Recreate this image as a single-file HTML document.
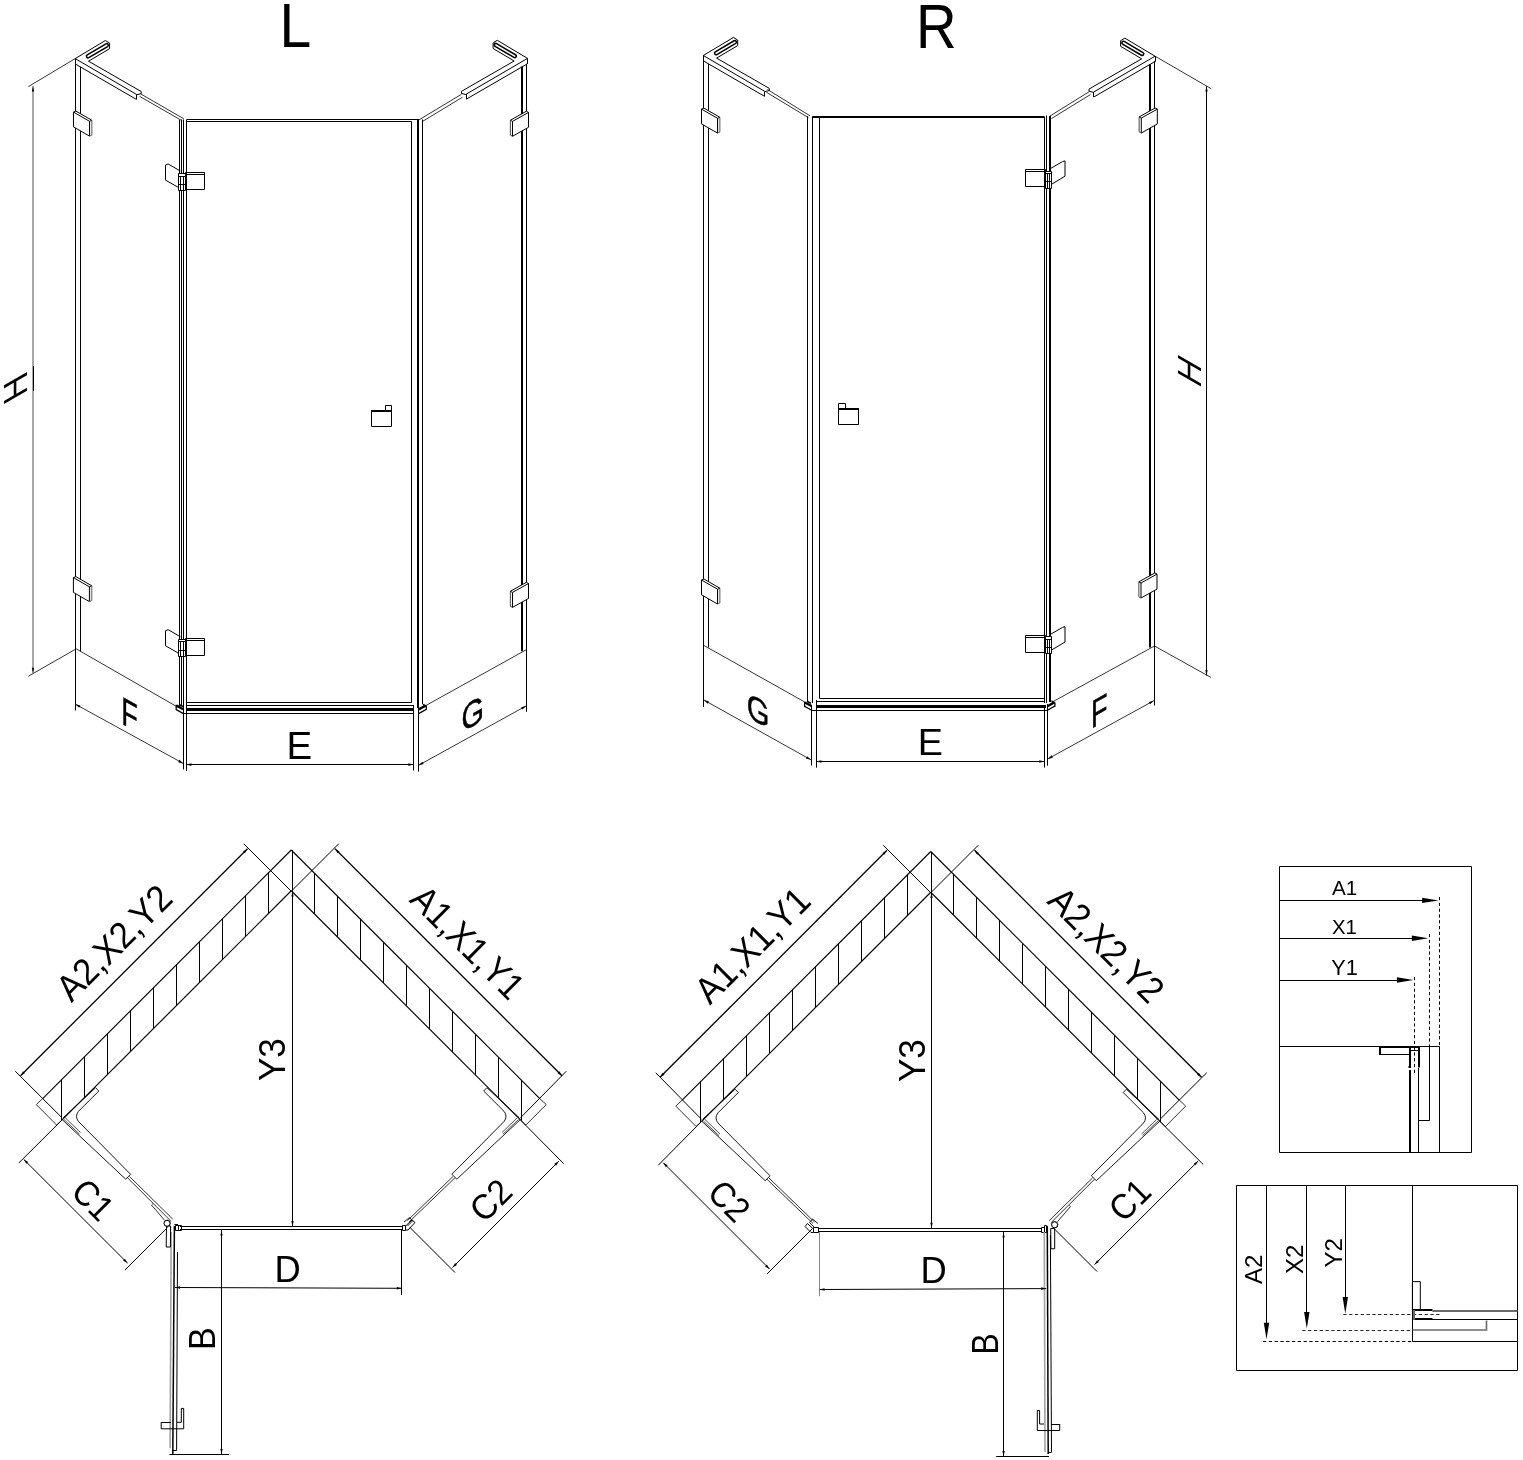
<!DOCTYPE html>
<html><head><meta charset="utf-8"><style>
html,body{margin:0;padding:0;background:#fff;}
svg{display:block;font-family:"Liberation Sans",sans-serif;filter:grayscale(1);}
</style></head><body>
<svg width="1523" height="1460" viewBox="0 0 1523 1460">
<rect width="1523" height="1460" fill="#fff"/>
<line x1="33" y1="86" x2="33" y2="673" stroke="#a8a8a8" stroke-width="2"/>
<line x1="33.5" y1="366" x2="33.5" y2="391" stroke="#000" stroke-width="1"/>
<line x1="28.4" y1="86.6" x2="75.2" y2="58.6" stroke="#000" stroke-width="0.8"/>
<line x1="28.4" y1="676.2" x2="75.4" y2="649.3" stroke="#000" stroke-width="0.8"/>
<path d="M33,86.5 L34.2,91.5 L31.8,91.5 Z" fill="#000"/>
<path d="M33,672.8 L31.8,667.8 L34.2,667.8 Z" fill="#000"/>
<text transform="matrix(0.00000 -1.00000 1.00000 -0.57735 27.10 393.54)" font-size="33.43" fill="#000">H</text>
<line x1="75.5" y1="58.6" x2="75.5" y2="710.3" stroke="#000" stroke-width="1"/>
<line x1="80.5" y1="66.9" x2="80.5" y2="651.4" stroke="#000" stroke-width="1"/>
<line x1="75.4" y1="648.4" x2="176.4" y2="706.4" stroke="#000" stroke-width="0.8"/>
<path d="M73.5,112.1 L75.9,111.1 L91.9,120.3 L91.9,135.1 L89.5,136.1 L73.5,126.9 Z" stroke="#fff" stroke-width="0.1" fill="#fff" stroke-linejoin="miter"/>
<path d="M89.5,121.3 L91.9,120.3 L91.9,135.1 L89.5,136.1 Z" stroke="#e4e4e4" stroke-width="0.1" fill="#e4e4e4" stroke-linejoin="miter"/>
<path d="M73.5,112.1 L89.5,121.3 L89.5,136.1 L73.5,126.9 Z" stroke="#000" stroke-width="1.0" fill="none" stroke-linejoin="miter"/>
<path d="M73.5,112.1 L75.9,111.1 L91.9,120.3 L89.5,121.3" stroke="#000" stroke-width="1.0" fill="none" stroke-linejoin="miter"/>
<path d="M91.9,120.3 L91.9,135.1 L89.5,136.1" stroke="#555" stroke-width="0.9" fill="none" stroke-linejoin="miter"/>
<path d="M73.4,577.6 L75.8,576.6 L91.8,585.8 L91.8,600.6 L89.4,601.6 L73.4,592.4 Z" stroke="#fff" stroke-width="0.1" fill="#fff" stroke-linejoin="miter"/>
<path d="M89.4,586.8 L91.8,585.8 L91.8,600.6 L89.4,601.6 Z" stroke="#e4e4e4" stroke-width="0.1" fill="#e4e4e4" stroke-linejoin="miter"/>
<path d="M73.4,577.6 L89.4,586.8 L89.4,601.6 L73.4,592.4 Z" stroke="#000" stroke-width="1.0" fill="none" stroke-linejoin="miter"/>
<path d="M73.4,577.6 L75.8,576.6 L91.8,585.8 L89.4,586.8" stroke="#000" stroke-width="1.0" fill="none" stroke-linejoin="miter"/>
<path d="M91.8,585.8 L91.8,600.6 L89.4,601.6" stroke="#555" stroke-width="0.9" fill="none" stroke-linejoin="miter"/>
<path d="M75.2,58.6 L105.4,40.5 L109.6,43.1 L109.6,48.7 L88.5,61.2 L141.2,91.5 L141.2,93.6 L136.5,94.8" stroke="#000" stroke-width="1.0" fill="none" stroke-linejoin="miter"/>
<line x1="75.2" y1="58.6" x2="136.5" y2="94.4" stroke="#000" stroke-width="1.0"/>
<line x1="75.5" y1="64.1" x2="136.4" y2="99.4" stroke="#000" stroke-width="1.0"/>
<line x1="136.5" y1="94.4" x2="136.5" y2="99.4" stroke="#000" stroke-width="1"/>
<line x1="75.5" y1="58.6" x2="75.5" y2="64.1" stroke="#000" stroke-width="1"/>
<line x1="88" y1="56.3" x2="106.8" y2="45.2" stroke="#000" stroke-width="4.6" stroke-linecap="round"/>
<line x1="88" y1="56.3" x2="106.8" y2="45.2" stroke="#fff" stroke-width="1.6" stroke-linecap="round"/>
<line x1="140.5" y1="93.8" x2="183.8" y2="118.8" stroke="#000" stroke-width="0.8"/>
<line x1="139.5" y1="96.3" x2="182.3" y2="120.9" stroke="#000" stroke-width="0.8"/>
<line x1="75.4" y1="704.2" x2="183.2" y2="763.4" stroke="#000" stroke-width="0.8"/>
<path d="M75.4,704.2 L80.41,705.47 L79.16,707.75 Z" fill="#000"/>
<path d="M183.2,763.4 L178.19,762.13 L179.44,759.85 Z" fill="#000"/>
<line x1="75.5" y1="710.3" x2="75.5" y2="704" stroke="#000" stroke-width="0.8"/>
<text transform="matrix(0.69000 0.38247 -0.00000 1.00000 121.16 723.30)" font-size="39.24" fill="#000" stroke="#000" stroke-width="0.5">F</text>
<line x1="179.5" y1="119.5" x2="179.5" y2="706" stroke="#000" stroke-width="1"/>
<line x1="181.5" y1="119.5" x2="181.5" y2="706" stroke="#000" stroke-width="1"/>
<line x1="183.5" y1="119.5" x2="183.5" y2="769.5" stroke="#000" stroke-width="1"/>
<line x1="186.5" y1="120" x2="186.5" y2="771" stroke="#000" stroke-width="1"/>
<line x1="411.5" y1="121.4" x2="411.5" y2="702.6" stroke="#000" stroke-width="1"/>
<line x1="413.5" y1="705" x2="413.5" y2="770.5" stroke="#000" stroke-width="1"/>
<line x1="418" y1="119" x2="418" y2="708" stroke="#000" stroke-width="2"/>
<line x1="418.5" y1="708" x2="418.5" y2="771.6" stroke="#000" stroke-width="1"/>
<line x1="422.5" y1="119.5" x2="422.5" y2="704" stroke="#000" stroke-width="1"/>
<line x1="186.4" y1="119.5" x2="418" y2="119.5" stroke="#000" stroke-width="1"/>
<line x1="186.4" y1="121.5" x2="411.4" y2="121.5" stroke="#000" stroke-width="1"/>
<line x1="186.4" y1="702.5" x2="411.4" y2="702.5" stroke="#000" stroke-width="1"/>
<line x1="186.4" y1="705.5" x2="413.4" y2="705.5" stroke="#000" stroke-width="1"/>
<line x1="186.4" y1="709.5" x2="413.4" y2="709.5" stroke="#000" stroke-width="3"/>
<line x1="183.6" y1="713.5" x2="413.4" y2="713.5" stroke="#000" stroke-width="1"/>
<path d="M176.2,704.8 L176.2,709.6 L183.5,713.6" stroke="#000" stroke-width="1.3" fill="none" stroke-linejoin="miter"/>
<line x1="176.5" y1="705.6" x2="183.2" y2="709.2" stroke="#000" stroke-width="2.4"/>
<line x1="179" y1="704.5" x2="183" y2="706.5" stroke="#000" stroke-width="1.6"/>
<path d="M418.6,713.6 L426.3,709.3 L426.3,706.2 L422.8,704.2" stroke="#000" stroke-width="1.3" fill="none" stroke-linejoin="miter"/>
<line x1="418.8" y1="709.4" x2="425.5" y2="705.6" stroke="#000" stroke-width="2.4"/>
<path d="M185.5,172.5 L204.5,172.5 L204.5,189.5 L185.5,189.5 Z" stroke="#000" stroke-width="1" fill="none" stroke-linejoin="miter"/>
<line x1="185.7" y1="174.5" x2="204.5" y2="174.5" stroke="#000" stroke-width="1"/>
<path d="M180.5,171.1 L168.2,164 L165.5,165 L165.5,180.1 L178.2,187.3" stroke="#000" stroke-width="1.0" fill="none" stroke-linejoin="miter"/>
<path d="M178.5,173.5 L185.5,173.5 L185.5,190.5 L178.5,190.5 Z" stroke="#000" stroke-width="1" fill="#fff" stroke-linejoin="miter"/>
<line x1="178.5" y1="176.5" x2="185" y2="176.5" stroke="#000" stroke-width="1"/>
<line x1="180.5" y1="176" x2="180.5" y2="190.8" stroke="#000" stroke-width="1"/>
<line x1="183.5" y1="176" x2="183.5" y2="190.8" stroke="#000" stroke-width="1"/>
<line x1="178.5" y1="184.5" x2="185" y2="184.5" stroke="#000" stroke-width="1"/>
<path d="M185.5,638.5 L204.5,638.5 L204.5,655.5 L185.5,655.5 Z" stroke="#000" stroke-width="1" fill="none" stroke-linejoin="miter"/>
<line x1="185.7" y1="640.5" x2="204.5" y2="640.5" stroke="#000" stroke-width="1"/>
<path d="M180.5,636.8 L168.2,629.7 L165.5,630.7 L165.5,645.8 L178.2,653" stroke="#000" stroke-width="1.0" fill="none" stroke-linejoin="miter"/>
<path d="M178.5,639.5 L185.5,639.5 L185.5,656.5 L178.5,656.5 Z" stroke="#000" stroke-width="1" fill="#fff" stroke-linejoin="miter"/>
<line x1="178.5" y1="641.5" x2="185" y2="641.5" stroke="#000" stroke-width="1"/>
<line x1="180.5" y1="641.7" x2="180.5" y2="656.5" stroke="#000" stroke-width="1"/>
<line x1="183.5" y1="641.7" x2="183.5" y2="656.5" stroke="#000" stroke-width="1"/>
<line x1="178.5" y1="650.5" x2="185" y2="650.5" stroke="#000" stroke-width="1"/>
<path d="M371.5,410.5 L391.5,410.5 L391.5,426.5 L371.5,426.5 Z" stroke="#000" stroke-width="1" fill="none" stroke-linejoin="miter"/>
<line x1="371.3" y1="411" x2="385.2" y2="411" stroke="#000" stroke-width="2"/>
<path d="M385.5,405.5 L391.5,405.5 L391.5,411.5 L385.5,411.5 Z" stroke="#000" stroke-width="1" fill="none" stroke-linejoin="miter"/>
<line x1="186.4" y1="764.5" x2="413.4" y2="764.5" stroke="#000" stroke-width="1"/>
<path d="M186.4,764.6 L191.4,763.3 L191.4,765.9 Z" fill="#000"/>
<path d="M413.4,764.6 L408.4,765.9 L408.4,763.3 Z" fill="#000"/>
<text transform="matrix(1.00000 0.00000 -0.00000 1.00000 286.60 758.85)" font-size="38.52" fill="#000">E</text>
<line x1="418.75" y1="120" x2="461.6" y2="94.2" stroke="#000" stroke-width="0.8"/>
<line x1="422.4" y1="121.5" x2="462.5" y2="97.2" stroke="#000" stroke-width="0.8"/>
<path d="M527.5,58.4 L497.3,40.3 L493.1,42.9 L493.1,48.5 L514.2,61 L461.5,91.3 L461.5,93.4 L466.2,94.6" stroke="#000" stroke-width="1.0" fill="none" stroke-linejoin="miter"/>
<line x1="527.5" y1="58.4" x2="466.2" y2="94.2" stroke="#000" stroke-width="1.0"/>
<line x1="527.2" y1="63.9" x2="466.3" y2="99.2" stroke="#000" stroke-width="1.0"/>
<line x1="466.5" y1="94.2" x2="466.5" y2="99.2" stroke="#000" stroke-width="1"/>
<line x1="527.5" y1="58.4" x2="527.5" y2="63.9" stroke="#000" stroke-width="1"/>
<line x1="514.7" y1="56.1" x2="495.9" y2="45" stroke="#000" stroke-width="4.6" stroke-linecap="round"/>
<line x1="514.7" y1="56.1" x2="495.9" y2="45" stroke="#fff" stroke-width="1.6" stroke-linecap="round"/>
<line x1="522" y1="66.5" x2="522" y2="651.2" stroke="#000" stroke-width="2"/>
<line x1="526.5" y1="63.8" x2="526.5" y2="711.6" stroke="#000" stroke-width="1"/>
<line x1="423.4" y1="706.9" x2="526.4" y2="649.7" stroke="#000" stroke-width="0.8"/>
<path d="M528.5,112.4 L526.35,111.25 L510.35,120.25 L510.35,135.15 L512.5,136.3 L528.5,127.3 Z" stroke="#fff" stroke-width="0.1" fill="#fff" stroke-linejoin="miter"/>
<path d="M528.5,112.4 L512.5,121.4 L512.5,136.3 L528.5,127.3 Z" stroke="#000" stroke-width="1.0" fill="none" stroke-linejoin="miter"/>
<path d="M528.5,112.4 L526.35,111.25 L510.35,120.25 L512.5,121.4" stroke="#000" stroke-width="1.0" fill="none" stroke-linejoin="miter"/>
<path d="M510.35,120.25 L510.35,135.15 L512.5,136.3" stroke="#333" stroke-width="0.9" fill="none" stroke-linejoin="miter"/>
<path d="M528.5,583.5 L526.35,582.35 L510.35,591.25 L510.35,606.25 L512.5,607.4 L528.5,598.5 Z" stroke="#fff" stroke-width="0.1" fill="#fff" stroke-linejoin="miter"/>
<path d="M528.5,583.5 L512.5,592.4 L512.5,607.4 L528.5,598.5 Z" stroke="#000" stroke-width="1.0" fill="none" stroke-linejoin="miter"/>
<path d="M528.5,583.5 L526.35,582.35 L510.35,591.25 L512.5,592.4" stroke="#000" stroke-width="1.0" fill="none" stroke-linejoin="miter"/>
<path d="M510.35,591.25 L510.35,606.25 L512.5,607.4" stroke="#333" stroke-width="0.9" fill="none" stroke-linejoin="miter"/>
<line x1="418.6" y1="765.3" x2="526.2" y2="705.9" stroke="#000" stroke-width="0.8"/>
<path d="M418.6,765.3 L422.35,761.75 L423.61,764.02 Z" fill="#000"/>
<path d="M526.2,705.9 L522.45,709.45 L521.19,707.18 Z" fill="#000"/>
<line x1="526.5" y1="711.6" x2="526.5" y2="705" stroke="#000" stroke-width="0.8"/>
<text transform="matrix(0.78000 -0.43236 -0.00000 1.00000 461.51 732.50)" font-size="37.06" fill="#000" stroke="#000" stroke-width="0.5">G</text>
<text transform="matrix(0.90000 0.00000 -0.00000 1.00000 279.55 47.10)" font-size="63.37" fill="#000">L</text>
<line x1="703.5" y1="55.5" x2="703.5" y2="707" stroke="#000" stroke-width="1"/>
<line x1="708.5" y1="63.8" x2="708.5" y2="647.4" stroke="#000" stroke-width="1"/>
<path d="M703.3,55.5 L733.5,37.4 L737.7,40 L737.7,45.6 L716.6,58.1 L769.3,88.4 L769.3,90.5 L764.6,91.7" stroke="#000" stroke-width="1.0" fill="none" stroke-linejoin="miter"/>
<line x1="703.3" y1="55.5" x2="764.6" y2="91.3" stroke="#000" stroke-width="1.0"/>
<line x1="703.6" y1="61" x2="764.5" y2="96.3" stroke="#000" stroke-width="1.0"/>
<line x1="764.5" y1="91.3" x2="764.5" y2="96.3" stroke="#000" stroke-width="1"/>
<line x1="703.5" y1="55.5" x2="703.5" y2="61" stroke="#000" stroke-width="1"/>
<line x1="716.1" y1="53.2" x2="734.9" y2="42.1" stroke="#000" stroke-width="4.6" stroke-linecap="round"/>
<line x1="716.1" y1="53.2" x2="734.9" y2="42.1" stroke="#fff" stroke-width="1.6" stroke-linecap="round"/>
<line x1="767.5" y1="89.5" x2="810" y2="115.8" stroke="#000" stroke-width="0.8"/>
<line x1="766.3" y1="92.2" x2="808.5" y2="117.7" stroke="#000" stroke-width="0.8"/>
<path d="M701.5,109.1 L703.9,108.1 L719.9,117.3 L719.9,132.1 L717.5,133.1 L701.5,123.9 Z" stroke="#fff" stroke-width="0.1" fill="#fff" stroke-linejoin="miter"/>
<path d="M717.5,118.3 L719.9,117.3 L719.9,132.1 L717.5,133.1 Z" stroke="#e4e4e4" stroke-width="0.1" fill="#e4e4e4" stroke-linejoin="miter"/>
<path d="M701.5,109.1 L717.5,118.3 L717.5,133.1 L701.5,123.9 Z" stroke="#000" stroke-width="1.0" fill="none" stroke-linejoin="miter"/>
<path d="M701.5,109.1 L703.9,108.1 L719.9,117.3 L717.5,118.3" stroke="#000" stroke-width="1.0" fill="none" stroke-linejoin="miter"/>
<path d="M719.9,117.3 L719.9,132.1 L717.5,133.1" stroke="#555" stroke-width="0.9" fill="none" stroke-linejoin="miter"/>
<path d="M701.5,580 L703.9,579 L719.9,588.2 L719.9,603 L717.5,604 L701.5,594.8 Z" stroke="#fff" stroke-width="0.1" fill="#fff" stroke-linejoin="miter"/>
<path d="M717.5,589.2 L719.9,588.2 L719.9,603 L717.5,604 Z" stroke="#e4e4e4" stroke-width="0.1" fill="#e4e4e4" stroke-linejoin="miter"/>
<path d="M701.5,580 L717.5,589.2 L717.5,604 L701.5,594.8 Z" stroke="#000" stroke-width="1.0" fill="none" stroke-linejoin="miter"/>
<path d="M701.5,580 L703.9,579 L719.9,588.2 L717.5,589.2" stroke="#000" stroke-width="1.0" fill="none" stroke-linejoin="miter"/>
<path d="M719.9,588.2 L719.9,603 L717.5,604" stroke="#555" stroke-width="0.9" fill="none" stroke-linejoin="miter"/>
<line x1="704" y1="645.5" x2="804.7" y2="702" stroke="#000" stroke-width="0.8"/>
<line x1="704" y1="700.1" x2="810.9" y2="759.8" stroke="#000" stroke-width="0.8"/>
<path d="M704,700.1 L709,701.4 L707.73,703.67 Z" fill="#000"/>
<path d="M810.9,759.8 L805.9,758.5 L807.17,756.23 Z" fill="#000"/>
<text transform="matrix(0.82000 0.45453 -0.00000 1.00000 746.84 716.44)" font-size="35.47" fill="#000" stroke="#000" stroke-width="0.5">G</text>
<line x1="807.5" y1="116.2" x2="807.5" y2="702" stroke="#000" stroke-width="1"/>
<line x1="812.5" y1="116.5" x2="812.5" y2="703" stroke="#000" stroke-width="1"/>
<line x1="819.5" y1="118" x2="819.5" y2="698.4" stroke="#000" stroke-width="1"/>
<line x1="811.5" y1="705" x2="811.5" y2="765.6" stroke="#000" stroke-width="1"/>
<line x1="816.5" y1="700" x2="816.5" y2="767.7" stroke="#000" stroke-width="1"/>
<line x1="1044.5" y1="117" x2="1044.5" y2="703" stroke="#000" stroke-width="1"/>
<line x1="1046.5" y1="115.5" x2="1046.5" y2="703" stroke="#000" stroke-width="1"/>
<line x1="1050" y1="116" x2="1050" y2="702" stroke="#000" stroke-width="2"/>
<line x1="1044.5" y1="705" x2="1044.5" y2="767.5" stroke="#000" stroke-width="1"/>
<line x1="1047.5" y1="704" x2="1047.5" y2="765.6" stroke="#000" stroke-width="1"/>
<line x1="812.4" y1="117" x2="1044.5" y2="117" stroke="#000" stroke-width="2"/>
<line x1="819.5" y1="698.5" x2="1044.3" y2="698.5" stroke="#000" stroke-width="1"/>
<line x1="816" y1="701.5" x2="1044.3" y2="701.5" stroke="#000" stroke-width="1"/>
<line x1="816" y1="706.5" x2="1046" y2="706.5" stroke="#000" stroke-width="3"/>
<line x1="812" y1="710.5" x2="1047" y2="710.5" stroke="#000" stroke-width="1"/>
<path d="M804.6,701.8 L804.6,706.3 L811.8,710.3" stroke="#000" stroke-width="1.3" fill="none" stroke-linejoin="miter"/>
<line x1="804.9" y1="702.5" x2="811.5" y2="706" stroke="#000" stroke-width="2.4"/>
<line x1="807" y1="701.3" x2="811" y2="703.3" stroke="#000" stroke-width="1.6"/>
<path d="M1047.3,710.3 L1054.9,706 L1054.9,702.8 L1051.3,700.8" stroke="#000" stroke-width="1.3" fill="none" stroke-linejoin="miter"/>
<line x1="1047.5" y1="706.2" x2="1054.2" y2="702.4" stroke="#000" stroke-width="2.4"/>
<path d="M838.5,408.5 L858.5,408.5 L858.5,424.5 L838.5,424.5 Z" stroke="#000" stroke-width="1" fill="none" stroke-linejoin="miter"/>
<line x1="845" y1="409" x2="858.8" y2="409" stroke="#000" stroke-width="2"/>
<path d="M838.5,403.5 L845.5,403.5 L845.5,409.5 L838.5,409.5 Z" stroke="#000" stroke-width="1" fill="none" stroke-linejoin="miter"/>
<path d="M1025.5,169.5 L1045.5,169.5 L1045.5,186.5 L1025.5,186.5 Z" stroke="#000" stroke-width="1" fill="none" stroke-linejoin="miter"/>
<line x1="1025.3" y1="171.5" x2="1045" y2="171.5" stroke="#000" stroke-width="1"/>
<path d="M1050,168.8 L1062.5,161.6 L1065,160.9 L1065,176.2 L1051.5,184.3" stroke="#000" stroke-width="1.0" fill="none" stroke-linejoin="miter"/>
<path d="M1045.5,171.5 L1051.5,171.5 L1051.5,188.5 L1045.5,188.5 Z" stroke="#000" stroke-width="1" fill="#fff" stroke-linejoin="miter"/>
<line x1="1045" y1="173.5" x2="1051.5" y2="173.5" stroke="#000" stroke-width="1"/>
<line x1="1047.5" y1="173.2" x2="1047.5" y2="188" stroke="#000" stroke-width="1"/>
<line x1="1049.5" y1="173.2" x2="1049.5" y2="188" stroke="#000" stroke-width="1"/>
<line x1="1045" y1="181.5" x2="1051.5" y2="181.5" stroke="#000" stroke-width="1"/>
<path d="M1025.5,635.5 L1045.5,635.5 L1045.5,652.5 L1025.5,652.5 Z" stroke="#000" stroke-width="1" fill="none" stroke-linejoin="miter"/>
<line x1="1025.3" y1="637.5" x2="1045" y2="637.5" stroke="#000" stroke-width="1"/>
<path d="M1050,634.6 L1062.5,627.4 L1065,626.7 L1065,642 L1051.5,650.1" stroke="#000" stroke-width="1.0" fill="none" stroke-linejoin="miter"/>
<path d="M1045.5,636.5 L1051.5,636.5 L1051.5,653.5 L1045.5,653.5 Z" stroke="#000" stroke-width="1" fill="#fff" stroke-linejoin="miter"/>
<line x1="1045" y1="639.5" x2="1051.5" y2="639.5" stroke="#000" stroke-width="1"/>
<line x1="1047.5" y1="639" x2="1047.5" y2="653.8" stroke="#000" stroke-width="1"/>
<line x1="1049.5" y1="639" x2="1049.5" y2="653.8" stroke="#000" stroke-width="1"/>
<line x1="1045" y1="647.5" x2="1051.5" y2="647.5" stroke="#000" stroke-width="1"/>
<line x1="816.4" y1="761.5" x2="1044.3" y2="761.5" stroke="#000" stroke-width="1"/>
<path d="M816.4,761.5 L821.4,760.2 L821.4,762.8 Z" fill="#000"/>
<path d="M1044.3,761.5 L1039.3,762.8 L1039.3,760.2 Z" fill="#000"/>
<text transform="matrix(1.00000 0.00000 -0.00000 1.00000 917.66 754.90)" font-size="37.79" fill="#000">E</text>
<line x1="1050" y1="116" x2="1089.5" y2="91.5" stroke="#000" stroke-width="0.8"/>
<line x1="1051.5" y1="118.5" x2="1090.5" y2="94.5" stroke="#000" stroke-width="0.8"/>
<path d="M1155,56.2 L1124.8,38.1 L1120.6,40.7 L1120.6,46.3 L1141.7,58.8 L1089,89.1 L1089,91.2 L1093.7,92.4" stroke="#000" stroke-width="1.0" fill="none" stroke-linejoin="miter"/>
<line x1="1155" y1="56.2" x2="1093.7" y2="92" stroke="#000" stroke-width="1.0"/>
<line x1="1154.7" y1="61.7" x2="1093.8" y2="97" stroke="#000" stroke-width="1.0"/>
<line x1="1093.5" y1="92" x2="1093.5" y2="97" stroke="#000" stroke-width="1"/>
<line x1="1155.5" y1="56.2" x2="1155.5" y2="61.7" stroke="#000" stroke-width="1"/>
<line x1="1142.2" y1="53.9" x2="1123.4" y2="42.8" stroke="#000" stroke-width="4.6" stroke-linecap="round"/>
<line x1="1142.2" y1="53.9" x2="1123.4" y2="42.8" stroke="#fff" stroke-width="1.6" stroke-linecap="round"/>
<line x1="1150" y1="64.3" x2="1150" y2="647.6" stroke="#000" stroke-width="2"/>
<line x1="1154.5" y1="61" x2="1154.5" y2="705.3" stroke="#000" stroke-width="1"/>
<line x1="1052.5" y1="701.9" x2="1154.5" y2="646" stroke="#000" stroke-width="0.8"/>
<path d="M1157.3,109.1 L1155.15,107.95 L1139.15,116.95 L1139.15,131.85 L1141.3,133 L1157.3,124 Z" stroke="#fff" stroke-width="0.1" fill="#fff" stroke-linejoin="miter"/>
<path d="M1157.3,109.1 L1141.3,118.1 L1141.3,133 L1157.3,124 Z" stroke="#000" stroke-width="1.0" fill="none" stroke-linejoin="miter"/>
<path d="M1157.3,109.1 L1155.15,107.95 L1139.15,116.95 L1141.3,118.1" stroke="#000" stroke-width="1.0" fill="none" stroke-linejoin="miter"/>
<path d="M1139.15,116.95 L1139.15,131.85 L1141.3,133" stroke="#333" stroke-width="0.9" fill="none" stroke-linejoin="miter"/>
<path d="M1157,574.1 L1154.85,572.95 L1138.85,581.85 L1138.85,596.85 L1141,598 L1157,589.1 Z" stroke="#fff" stroke-width="0.1" fill="#fff" stroke-linejoin="miter"/>
<path d="M1157,574.1 L1141,583 L1141,598 L1157,589.1 Z" stroke="#000" stroke-width="1.0" fill="none" stroke-linejoin="miter"/>
<path d="M1157,574.1 L1154.85,572.95 L1138.85,581.85 L1141,583" stroke="#000" stroke-width="1.0" fill="none" stroke-linejoin="miter"/>
<path d="M1138.85,581.85 L1138.85,596.85 L1141,598" stroke="#333" stroke-width="0.9" fill="none" stroke-linejoin="miter"/>
<line x1="1047.9" y1="758.9" x2="1153.8" y2="700.7" stroke="#000" stroke-width="0.8"/>
<path d="M1047.9,758.9 L1051.66,755.35 L1052.91,757.63 Z" fill="#000"/>
<path d="M1153.8,700.7 L1150.04,704.25 L1148.79,701.97 Z" fill="#000"/>
<line x1="1154.5" y1="705.3" x2="1154.5" y2="700" stroke="#000" stroke-width="0.8"/>
<text transform="matrix(0.69000 -0.38247 -0.00000 1.00000 1090.96 729.10)" font-size="39.24" fill="#000" stroke="#000" stroke-width="0.5">F</text>
<line x1="1206.5" y1="86.3" x2="1206.5" y2="675.5" stroke="#000" stroke-width="1"/>
<line x1="1155" y1="56.2" x2="1211.3" y2="88.8" stroke="#000" stroke-width="0.8"/>
<line x1="1154.5" y1="646" x2="1210.9" y2="677.4" stroke="#000" stroke-width="0.8"/>
<path d="M1206.5,86.5 L1207.7,91.5 L1205.3,91.5 Z" fill="#000"/>
<path d="M1206.5,675.2 L1205.3,670.2 L1207.7,670.2 Z" fill="#000"/>
<text transform="matrix(0.00000 -0.98000 1.00000 0.57735 1200.75 389.23)" font-size="33.43" fill="#000">H</text>
<text transform="matrix(0.89000 0.00000 -0.00000 1.00000 915.93 48.25)" font-size="63.23" fill="#000">R</text>
<line x1="291.25" y1="850" x2="42.7" y2="1098.55" stroke="#000" stroke-width="1.15"/>
<line x1="291.25" y1="850" x2="539.8" y2="1098.55" stroke="#000" stroke-width="1.15"/>
<line x1="291.25" y1="890.75" x2="62.1" y2="1119.9" stroke="#000" stroke-width="1.15"/>
<line x1="291.25" y1="890.75" x2="520.4" y2="1119.9" stroke="#000" stroke-width="1.15"/>
<line x1="61.5" y1="1079.75" x2="61.5" y2="1120.5" stroke="#000" stroke-width="1"/>
<line x1="314.5" y1="873" x2="314.5" y2="913.75" stroke="#000" stroke-width="1"/>
<line x1="84.5" y1="1056.75" x2="84.5" y2="1097.5" stroke="#000" stroke-width="1"/>
<line x1="337.5" y1="896" x2="337.5" y2="936.75" stroke="#000" stroke-width="1"/>
<line x1="107.5" y1="1033.75" x2="107.5" y2="1074.5" stroke="#000" stroke-width="1"/>
<line x1="360.5" y1="919" x2="360.5" y2="959.75" stroke="#000" stroke-width="1"/>
<line x1="130.5" y1="1010.75" x2="130.5" y2="1051.5" stroke="#000" stroke-width="1"/>
<line x1="383.5" y1="942" x2="383.5" y2="982.75" stroke="#000" stroke-width="1"/>
<line x1="153.5" y1="987.75" x2="153.5" y2="1028.5" stroke="#000" stroke-width="1"/>
<line x1="406.5" y1="965" x2="406.5" y2="1005.75" stroke="#000" stroke-width="1"/>
<line x1="176.5" y1="964.75" x2="176.5" y2="1005.5" stroke="#000" stroke-width="1"/>
<line x1="429.5" y1="988" x2="429.5" y2="1028.75" stroke="#000" stroke-width="1"/>
<line x1="199.5" y1="941.75" x2="199.5" y2="982.5" stroke="#000" stroke-width="1"/>
<line x1="452.5" y1="1011" x2="452.5" y2="1051.75" stroke="#000" stroke-width="1"/>
<line x1="222.5" y1="918.75" x2="222.5" y2="959.5" stroke="#000" stroke-width="1"/>
<line x1="475.5" y1="1034" x2="475.5" y2="1074.75" stroke="#000" stroke-width="1"/>
<line x1="245.5" y1="895.75" x2="245.5" y2="936.5" stroke="#000" stroke-width="1"/>
<line x1="498.5" y1="1057" x2="498.5" y2="1097.75" stroke="#000" stroke-width="1"/>
<line x1="268.5" y1="872.75" x2="268.5" y2="913.5" stroke="#000" stroke-width="1"/>
<line x1="521.5" y1="1080" x2="521.5" y2="1120.75" stroke="#000" stroke-width="1"/>
<line x1="243.75" y1="843.75" x2="291.25" y2="891.25" stroke="#000" stroke-width="1.0"/>
<line x1="15.25" y1="1071.2" x2="62.1" y2="1117.9" stroke="#000" stroke-width="1.0"/>
<line x1="20.5" y1="1075.8" x2="247.5" y2="848.8" stroke="#000" stroke-width="1.3"/>
<path d="M20.5,1075.8 L23.12,1071.35 L24.95,1073.18 Z" fill="#000"/>
<path d="M247.5,848.8 L244.88,853.25 L243.05,851.42 Z" fill="#000"/>
<line x1="338.75" y1="843.75" x2="291.25" y2="891.25" stroke="#000" stroke-width="1.0"/>
<line x1="566.25" y1="1071.25" x2="520.4" y2="1117.9" stroke="#000" stroke-width="1.0"/>
<line x1="335" y1="848.8" x2="562" y2="1075.8" stroke="#000" stroke-width="1.3"/>
<path d="M335,848.8 L339.45,851.42 L337.62,853.25 Z" fill="#000"/>
<path d="M562,1075.8 L557.55,1073.18 L559.38,1071.35 Z" fill="#000"/>
<path d="M42.7,1098.55 L36.3,1104.6 L56.6,1125 L62.1,1119.9" stroke="#000" stroke-width="0.8" fill="none" stroke-linejoin="miter"/>
<path d="M539.8,1098.55 L546.2,1104.6 L525.9,1125 L520.4,1119.9" stroke="#000" stroke-width="0.8" fill="none" stroke-linejoin="miter"/>
<path d="M63.2,1117.8 L95.6,1087.7 L98.8,1091 L78.5,1111.3" stroke="#000" stroke-width="0.9" fill="none" stroke-linejoin="miter"/>
<path d="M78.5,1111.3 Q74.5,1116.5 78.5,1121.5" stroke="#000" stroke-width="0.9" fill="none"/>
<path d="M78.5,1121.5 L130.6,1174.3 L125.7,1179.2" stroke="#000" stroke-width="0.9" fill="none" stroke-linejoin="miter"/>
<line x1="62.1" y1="1119.5" x2="125.7" y2="1179.2" stroke="#000" stroke-width="0.9"/>
<line x1="64" y1="1119.5" x2="79.5" y2="1134.2" stroke="#000" stroke-width="0.7"/>
<line x1="65.5" y1="1118" x2="80.5" y2="1132.5" stroke="#000" stroke-width="0.7"/>
<line x1="127.3" y1="1177.6" x2="171.2" y2="1221.4" stroke="#000" stroke-width="0.8"/>
<line x1="129.5" y1="1176.5" x2="172.8" y2="1219.2" stroke="#000" stroke-width="0.8"/>
<line x1="151.5" y1="1205" x2="164.6" y2="1220.3" stroke="#000" stroke-width="0.8"/>
<line x1="151.5" y1="1205" x2="152.8" y2="1203.8" stroke="#000" stroke-width="0.8"/>
<circle cx="167.2" cy="1223.2" r="3" stroke="#000" stroke-width="0.9" fill="none"/>
<path d="M519.3,1117.8 L486.9,1087.7 L483.7,1091 L504,1111.3" stroke="#000" stroke-width="0.9" fill="none" stroke-linejoin="miter"/>
<path d="M504,1111.3 Q508,1116.5 504,1121.5" stroke="#000" stroke-width="0.9" fill="none"/>
<path d="M504,1121.5 L451.9,1174.3 L456.8,1179.2" stroke="#000" stroke-width="0.9" fill="none" stroke-linejoin="miter"/>
<line x1="520.4" y1="1119.5" x2="456.8" y2="1179.2" stroke="#000" stroke-width="0.9"/>
<line x1="518.5" y1="1119.5" x2="503" y2="1134.2" stroke="#000" stroke-width="0.7"/>
<line x1="517" y1="1118" x2="502" y2="1132.5" stroke="#000" stroke-width="0.7"/>
<line x1="455.2" y1="1177.6" x2="409" y2="1222" stroke="#000" stroke-width="0.8"/>
<line x1="453" y1="1176.5" x2="407.5" y2="1220.5" stroke="#000" stroke-width="0.8"/>
<path d="M404,1222 L409.5,1217.5 L412.5,1221 L407.5,1226" stroke="#000" stroke-width="0.9" fill="none" stroke-linejoin="miter"/>
<line x1="18.75" y1="1163" x2="62.1" y2="1119.9" stroke="#000" stroke-width="1.0"/>
<line x1="125" y1="1270" x2="167.5" y2="1227.5" stroke="#000" stroke-width="1.0"/>
<line x1="23.75" y1="1159.4" x2="127.5" y2="1263.1" stroke="#000" stroke-width="1.0"/>
<path d="M23.75,1159.4 L28.21,1162.02 L26.37,1163.85 Z" fill="#000"/>
<path d="M127.5,1263.1 L123.04,1260.48 L124.88,1258.65 Z" fill="#000"/>
<line x1="520.4" y1="1119.9" x2="563.75" y2="1163.75" stroke="#000" stroke-width="1.0"/>
<line x1="410" y1="1227.5" x2="455" y2="1272.5" stroke="#000" stroke-width="1.0"/>
<line x1="452.5" y1="1267.5" x2="558.75" y2="1161.25" stroke="#000" stroke-width="1.0"/>
<path d="M452.5,1267.5 L455.12,1263.05 L456.95,1264.88 Z" fill="#000"/>
<path d="M558.75,1161.25 L556.13,1165.7 L554.3,1163.87 Z" fill="#000"/>
<line x1="292.5" y1="850" x2="292.5" y2="1226.3" stroke="#000" stroke-width="1"/>
<path d="M292.5,891.5 L293.7,896.5 L291.3,896.5 Z" fill="#000"/>
<path d="M292.5,1226.3 L291.3,1221.3 L293.7,1221.3 Z" fill="#000"/>
<line x1="180" y1="1226.5" x2="402.5" y2="1226.5" stroke="#000" stroke-width="1"/>
<line x1="180" y1="1229.5" x2="402.5" y2="1229.5" stroke="#000" stroke-width="1"/>
<path d="M175.5,1225.5 L178.5,1225.5 L178.5,1230.5 L175.5,1230.5 Z" stroke="#000" stroke-width="1" fill="none" stroke-linejoin="miter"/>
<path d="M178.5,1225.5 L181.5,1225.5 L181.5,1230.5 L178.5,1230.5 Z" stroke="#000" stroke-width="1" fill="none" stroke-linejoin="miter"/>
<path d="M402.5,1225.5 L405.5,1225.5 L405.5,1230.5 L402.5,1230.5 Z" stroke="#000" stroke-width="1" fill="none" stroke-linejoin="miter"/>
<path d="M405.5,1230 L408,1230 L415,1222.5 L412,1220 L405.5,1226" stroke="#000" stroke-width="1.0" fill="none" stroke-linejoin="miter"/>
<line x1="171.2" y1="1232" x2="170.1" y2="1448" stroke="#a3a3a3" stroke-width="1.6"/>
<line x1="174.4" y1="1226" x2="172.8" y2="1454" stroke="#000" stroke-width="1.5"/>
<line x1="177.5" y1="1252" x2="176.6" y2="1450.3" stroke="#000" stroke-width="1.0"/>
<line x1="173" y1="1450.5" x2="176.6" y2="1450.5" stroke="#000" stroke-width="1"/>
<path d="M166.5,1226 L170.6,1226 L170.4,1247 L166.2,1247 Z" stroke="#000" stroke-width="1.0" fill="none" stroke-linejoin="miter"/>
<circle cx="167" cy="1223.3" r="3" stroke="#000" stroke-width="1" fill="#fff"/>
<line x1="174.5" y1="1224.5" x2="178" y2="1224.5" stroke="#000" stroke-width="1"/>
<path d="M161.2,1422.3 L161.2,1428.8 L183.7,1428.8 L183.7,1408.4 L181.3,1408.4 L181.3,1422.3 L177,1422.3" stroke="#000" stroke-width="1.0" fill="none" stroke-linejoin="miter"/>
<line x1="161.2" y1="1422.5" x2="171" y2="1422.5" stroke="#000" stroke-width="1"/>
<line x1="169.5" y1="1454.5" x2="228.9" y2="1454.5" stroke="#000" stroke-width="1"/>
<line x1="401.5" y1="1230" x2="401.5" y2="1295" stroke="#000" stroke-width="1"/>
<line x1="175" y1="1287.5" x2="401.75" y2="1288.3" stroke="#000" stroke-width="1.0"/>
<path d="M175,1287.5 L180.01,1286.23 L179.99,1288.83 Z" fill="#000"/>
<path d="M401.75,1288.3 L396.74,1289.56 L396.76,1286.96 Z" fill="#000"/>
<line x1="221.5" y1="1230" x2="221.5" y2="1454.5" stroke="#000" stroke-width="1"/>
<path d="M221.5,1230.5 L222.7,1235.5 L220.3,1235.5 Z" fill="#000"/>
<path d="M221.5,1454 L220.3,1449 L222.7,1449 Z" fill="#000"/>
<line x1="930.75" y1="851.5" x2="1179.3" y2="1100.05" stroke="#000" stroke-width="1.15"/>
<line x1="930.75" y1="851.5" x2="682.2" y2="1100.05" stroke="#000" stroke-width="1.15"/>
<line x1="930.75" y1="892.25" x2="1159.9" y2="1121.4" stroke="#000" stroke-width="1.15"/>
<line x1="930.75" y1="892.25" x2="701.6" y2="1121.4" stroke="#000" stroke-width="1.15"/>
<line x1="1160.5" y1="1081.25" x2="1160.5" y2="1122" stroke="#000" stroke-width="1"/>
<line x1="907.5" y1="874.5" x2="907.5" y2="915.25" stroke="#000" stroke-width="1"/>
<line x1="1137.5" y1="1058.25" x2="1137.5" y2="1099" stroke="#000" stroke-width="1"/>
<line x1="884.5" y1="897.5" x2="884.5" y2="938.25" stroke="#000" stroke-width="1"/>
<line x1="1114.5" y1="1035.25" x2="1114.5" y2="1076" stroke="#000" stroke-width="1"/>
<line x1="861.5" y1="920.5" x2="861.5" y2="961.25" stroke="#000" stroke-width="1"/>
<line x1="1091.5" y1="1012.25" x2="1091.5" y2="1053" stroke="#000" stroke-width="1"/>
<line x1="838.5" y1="943.5" x2="838.5" y2="984.25" stroke="#000" stroke-width="1"/>
<line x1="1068.5" y1="989.25" x2="1068.5" y2="1030" stroke="#000" stroke-width="1"/>
<line x1="815.5" y1="966.5" x2="815.5" y2="1007.25" stroke="#000" stroke-width="1"/>
<line x1="1045.5" y1="966.25" x2="1045.5" y2="1007" stroke="#000" stroke-width="1"/>
<line x1="792.5" y1="989.5" x2="792.5" y2="1030.25" stroke="#000" stroke-width="1"/>
<line x1="1022.5" y1="943.25" x2="1022.5" y2="984" stroke="#000" stroke-width="1"/>
<line x1="769.5" y1="1012.5" x2="769.5" y2="1053.25" stroke="#000" stroke-width="1"/>
<line x1="999.5" y1="920.25" x2="999.5" y2="961" stroke="#000" stroke-width="1"/>
<line x1="746.5" y1="1035.5" x2="746.5" y2="1076.25" stroke="#000" stroke-width="1"/>
<line x1="976.5" y1="897.25" x2="976.5" y2="938" stroke="#000" stroke-width="1"/>
<line x1="723.5" y1="1058.5" x2="723.5" y2="1099.25" stroke="#000" stroke-width="1"/>
<line x1="953.5" y1="874.25" x2="953.5" y2="915" stroke="#000" stroke-width="1"/>
<line x1="700.5" y1="1081.5" x2="700.5" y2="1122.25" stroke="#000" stroke-width="1"/>
<line x1="978.25" y1="845.25" x2="930.75" y2="892.75" stroke="#000" stroke-width="1.0"/>
<line x1="1206.75" y1="1072.7" x2="1159.9" y2="1119.4" stroke="#000" stroke-width="1.0"/>
<line x1="1201.5" y1="1077.3" x2="974.5" y2="850.3" stroke="#000" stroke-width="1.3"/>
<path d="M1201.5,1077.3 L1197.05,1074.68 L1198.88,1072.85 Z" fill="#000"/>
<path d="M974.5,850.3 L978.95,852.92 L977.12,854.75 Z" fill="#000"/>
<line x1="883.25" y1="845.25" x2="930.75" y2="892.75" stroke="#000" stroke-width="1.0"/>
<line x1="655.75" y1="1072.75" x2="701.6" y2="1119.4" stroke="#000" stroke-width="1.0"/>
<line x1="887" y1="850.3" x2="660" y2="1077.3" stroke="#000" stroke-width="1.3"/>
<path d="M887,850.3 L884.38,854.75 L882.55,852.92 Z" fill="#000"/>
<path d="M660,1077.3 L662.62,1072.85 L664.45,1074.68 Z" fill="#000"/>
<path d="M1179.3,1100.05 L1185.7,1106.1 L1165.4,1126.5 L1159.9,1121.4" stroke="#000" stroke-width="0.8" fill="none" stroke-linejoin="miter"/>
<path d="M682.2,1100.05 L675.8,1106.1 L696.1,1126.5 L701.6,1121.4" stroke="#000" stroke-width="0.8" fill="none" stroke-linejoin="miter"/>
<path d="M1158.8,1119.3 L1126.4,1089.2 L1123.2,1092.5 L1143.5,1112.8" stroke="#000" stroke-width="0.9" fill="none" stroke-linejoin="miter"/>
<path d="M1143.5,1112.8 Q1147.5,1118 1143.5,1123" stroke="#000" stroke-width="0.9" fill="none"/>
<path d="M1143.5,1123 L1091.4,1175.8 L1096.3,1180.7" stroke="#000" stroke-width="0.9" fill="none" stroke-linejoin="miter"/>
<line x1="1159.9" y1="1121" x2="1096.3" y2="1180.7" stroke="#000" stroke-width="0.9"/>
<line x1="1158" y1="1121" x2="1142.5" y2="1135.7" stroke="#000" stroke-width="0.7"/>
<line x1="1156.5" y1="1119.5" x2="1141.5" y2="1134" stroke="#000" stroke-width="0.7"/>
<line x1="1094.7" y1="1179.1" x2="1050.8" y2="1222.9" stroke="#000" stroke-width="0.8"/>
<line x1="1092.5" y1="1178" x2="1049.2" y2="1220.7" stroke="#000" stroke-width="0.8"/>
<line x1="1070.5" y1="1206.5" x2="1057.4" y2="1221.8" stroke="#000" stroke-width="0.8"/>
<line x1="1070.5" y1="1206.5" x2="1069.2" y2="1205.3" stroke="#000" stroke-width="0.8"/>
<circle cx="1054.8" cy="1224.7" r="3" stroke="#000" stroke-width="0.9" fill="none"/>
<path d="M702.7,1119.3 L735.1,1089.2 L738.3,1092.5 L718,1112.8" stroke="#000" stroke-width="0.9" fill="none" stroke-linejoin="miter"/>
<path d="M718,1112.8 Q714,1118 718,1123" stroke="#000" stroke-width="0.9" fill="none"/>
<path d="M718,1123 L770.1,1175.8 L765.2,1180.7" stroke="#000" stroke-width="0.9" fill="none" stroke-linejoin="miter"/>
<line x1="701.6" y1="1121" x2="765.2" y2="1180.7" stroke="#000" stroke-width="0.9"/>
<line x1="703.5" y1="1121" x2="719" y2="1135.7" stroke="#000" stroke-width="0.7"/>
<line x1="705" y1="1119.5" x2="720" y2="1134" stroke="#000" stroke-width="0.7"/>
<line x1="766.8" y1="1179.1" x2="813" y2="1223.5" stroke="#000" stroke-width="0.8"/>
<line x1="769" y1="1178" x2="814.5" y2="1222" stroke="#000" stroke-width="0.8"/>
<path d="M818,1223.5 L812.5,1219 L809.5,1222.5 L814.5,1227.5" stroke="#000" stroke-width="0.9" fill="none" stroke-linejoin="miter"/>
<line x1="1203.25" y1="1164.5" x2="1159.9" y2="1121.4" stroke="#000" stroke-width="1.0"/>
<line x1="1097" y1="1271.5" x2="1054.5" y2="1229" stroke="#000" stroke-width="1.0"/>
<line x1="1198.25" y1="1160.9" x2="1094.5" y2="1264.6" stroke="#000" stroke-width="1.0"/>
<path d="M1198.25,1160.9 L1195.63,1165.35 L1193.79,1163.52 Z" fill="#000"/>
<path d="M1094.5,1264.6 L1097.12,1260.15 L1098.96,1261.98 Z" fill="#000"/>
<line x1="701.6" y1="1121.4" x2="658.25" y2="1165.25" stroke="#000" stroke-width="1.0"/>
<line x1="812" y1="1229" x2="767" y2="1274" stroke="#000" stroke-width="1.0"/>
<line x1="769.5" y1="1269" x2="663.25" y2="1162.75" stroke="#000" stroke-width="1.0"/>
<path d="M769.5,1269 L765.05,1266.38 L766.88,1264.55 Z" fill="#000"/>
<path d="M663.25,1162.75 L667.7,1165.37 L665.87,1167.2 Z" fill="#000"/>
<line x1="931.5" y1="852" x2="931.5" y2="1228" stroke="#000" stroke-width="1"/>
<path d="M931.5,893 L932.7,898 L930.3,898 Z" fill="#000"/>
<path d="M931.5,1227.8 L930.3,1222.8 L932.7,1222.8 Z" fill="#000"/>
<line x1="818.3" y1="1228.5" x2="1041.2" y2="1228.5" stroke="#000" stroke-width="1"/>
<line x1="818.3" y1="1231.5" x2="1041.2" y2="1231.5" stroke="#000" stroke-width="1"/>
<path d="M1041.5,1227.5 L1044.5,1227.5 L1044.5,1232.5 L1041.5,1232.5 Z" stroke="#000" stroke-width="1" fill="none" stroke-linejoin="miter"/>
<path d="M1044.5,1225.5 L1046.5,1225.5 L1046.5,1232.5 L1044.5,1232.5 Z" stroke="#000" stroke-width="1" fill="none" stroke-linejoin="miter"/>
<path d="M813.5,1227.5 L818.5,1227.5 L818.5,1232.5 L813.5,1232.5 Z" stroke="#000" stroke-width="1" fill="none" stroke-linejoin="miter"/>
<path d="M813.3,1232.5 L811,1232.5 L805,1226.5 L807.5,1223.5 L813.3,1229" stroke="#000" stroke-width="1.0" fill="none" stroke-linejoin="miter"/>
<line x1="1044.3" y1="1232" x2="1045" y2="1452" stroke="#a3a3a3" stroke-width="1.6"/>
<line x1="1047.3" y1="1226" x2="1048.2" y2="1454" stroke="#000" stroke-width="1.5"/>
<line x1="1050.4" y1="1235" x2="1051.5" y2="1452" stroke="#000" stroke-width="1.0"/>
<line x1="1048" y1="1452.5" x2="1051.5" y2="1452.5" stroke="#000" stroke-width="1"/>
<path d="M1050.7,1228.5 L1054.7,1228.5 L1054.7,1248.8 L1050.9,1248.8 Z" stroke="#000" stroke-width="1.0" fill="none" stroke-linejoin="miter"/>
<circle cx="1054.6" cy="1224.8" r="3" stroke="#000" stroke-width="1" fill="#fff"/>
<path d="M1059.7,1424 L1059.7,1430.5 L1037.3,1430.5 L1037.3,1410.4 L1039.6,1410.4 L1039.6,1424 L1044,1424" stroke="#000" stroke-width="1.0" fill="none" stroke-linejoin="miter"/>
<line x1="1051" y1="1424.5" x2="1059.7" y2="1424.5" stroke="#000" stroke-width="1"/>
<line x1="996.2" y1="1456.5" x2="1049" y2="1456.5" stroke="#000" stroke-width="1"/>
<line x1="819.5" y1="1232" x2="819.5" y2="1296.25" stroke="#888" stroke-width="1"/>
<line x1="819.5" y1="1289.5" x2="1046.25" y2="1288.6" stroke="#000" stroke-width="1.0"/>
<path d="M819.5,1289.5 L824.49,1288.17 L824.51,1290.77 Z" fill="#000"/>
<path d="M1046.25,1288.6 L1041.26,1289.93 L1041.24,1287.33 Z" fill="#000"/>
<line x1="1003.5" y1="1232" x2="1003.5" y2="1456.5" stroke="#000" stroke-width="1"/>
<path d="M1003.6,1232.5 L1004.8,1237.5 L1002.4,1237.5 Z" fill="#000"/>
<path d="M1003.6,1456 L1002.4,1451 L1004.8,1451 Z" fill="#000"/>
<text transform="matrix(0.65761 -0.65761 0.70711 0.70711 71.57 1003.37)" font-size="37.06" fill="#000">A2,X2,Y2</text>
<text transform="matrix(0.64347 0.64347 -0.70711 0.70711 408.34 901.01)" font-size="37.06" fill="#000">A1,X1,Y1</text>
<text transform="matrix(0.00000 -0.93000 1.00000 0.00000 284.76 1081.11)" font-size="37.79" fill="#000">Y3</text>
<text transform="matrix(0.65761 0.65761 -0.70711 0.70711 69.53 1193.43)" font-size="35.32" fill="#000">C1</text>
<text transform="matrix(0.67175 -0.67175 0.70711 0.70711 484.18 1224.02)" font-size="35.32" fill="#000">C2</text>
<text transform="matrix(1.00000 0.00000 -0.00000 1.00000 274.51 1282.00)" font-size="36.34" fill="#000">D</text>
<text transform="matrix(0.00000 -0.90000 1.00000 0.00000 214.75 1350.09)" font-size="37.79" fill="#000">B</text>
<text transform="matrix(0.65761 -0.65761 0.70711 0.70711 709.92 1005.76)" font-size="37.06" fill="#000">A1,X1,Y1</text>
<text transform="matrix(0.65761 0.65761 -0.70711 0.70711 1045.88 902.32)" font-size="37.06" fill="#000">A2,X2,Y2</text>
<text transform="matrix(0.00000 -0.93000 1.00000 0.00000 924.51 1082.11)" font-size="37.79" fill="#000">Y3</text>
<text transform="matrix(0.65761 0.65761 -0.70711 0.70711 705.80 1194.75)" font-size="35.32" fill="#000">C2</text>
<text transform="matrix(0.65761 -0.65761 0.70711 0.70711 1123.48 1223.47)" font-size="35.32" fill="#000">C1</text>
<text transform="matrix(1.00000 0.00000 -0.00000 1.00000 920.51 1282.50)" font-size="36.34" fill="#000">D</text>
<text transform="matrix(0.00000 -0.85000 1.00000 0.00000 997.75 1354.68)" font-size="37.79" fill="#000">B</text>
<path d="M1279.5,866.5 L1471.5,866.5 L1471.5,1152.5 L1279.5,1152.5 Z" stroke="#000" stroke-width="1" fill="none" stroke-linejoin="miter"/>
<line x1="1279.3" y1="900.5" x2="1428.6" y2="900.5" stroke="#000" stroke-width="1"/>
<path d="M1438.6,900.4 L1422.1,903.1 L1422.1,897.7 Z" fill="#000"/>
<text transform="matrix(1.00000 0.00000 -0.00000 1.00000 1332.06 894.70)" font-size="20.64" fill="#000">A1</text>
<line x1="1279.3" y1="938.5" x2="1418.3" y2="938.5" stroke="#000" stroke-width="1"/>
<path d="M1428.3,938.3 L1411.8,941 L1411.8,935.6 Z" fill="#000"/>
<text transform="matrix(1.00000 0.00000 -0.00000 1.00000 1332.02 934.00)" font-size="20.35" fill="#000">X1</text>
<line x1="1279.3" y1="980.5" x2="1403.4" y2="980.5" stroke="#000" stroke-width="1"/>
<path d="M1413.4,980 L1396.9,982.7 L1396.9,977.3 Z" fill="#000"/>
<text transform="matrix(1.00000 0.00000 -0.00000 1.00000 1331.25 975.25)" font-size="21.66" fill="#000">Y1</text>
<line x1="1439.5" y1="897" x2="1439.5" y2="1046" stroke="#000" stroke-width="1" stroke-dasharray="3.2 2.6"/>
<line x1="1429.5" y1="934" x2="1429.5" y2="1046" stroke="#000" stroke-width="1" stroke-dasharray="3.2 2.6"/>
<line x1="1414.5" y1="977" x2="1414.5" y2="1074" stroke="#000" stroke-width="1" stroke-dasharray="3.2 2.6"/>
<line x1="1279.3" y1="1046.5" x2="1439.5" y2="1046.5" stroke="#000" stroke-width="1"/>
<line x1="1439.5" y1="1046.6" x2="1439.5" y2="1152.5" stroke="#000" stroke-width="1"/>
<path d="M1429.5,1046.6 L1429.5,1120.5 L1418.5,1120.5" stroke="#000" stroke-width="1.0" fill="none" stroke-linejoin="miter"/>
<line x1="1410" y1="1070" x2="1410" y2="1152.5" stroke="#000" stroke-width="2"/>
<line x1="1418.5" y1="1068" x2="1418.5" y2="1152.5" stroke="#000" stroke-width="1"/>
<line x1="1410" y1="1046.5" x2="1410" y2="1066.5" stroke="#000" stroke-width="2"/>
<line x1="1419" y1="1046.5" x2="1419" y2="1067.5" stroke="#000" stroke-width="2"/>
<line x1="1409" y1="1047" x2="1419.5" y2="1047" stroke="#000" stroke-width="2"/>
<line x1="1410.5" y1="1050.5" x2="1418" y2="1050.5" stroke="#000" stroke-width="1"/>
<path d="M1409,1047.5 L1380.5,1047.5 L1380.5,1054.5 L1409,1054.5" stroke="#000" stroke-width="1.0" fill="none" stroke-linejoin="miter"/>
<line x1="1380" y1="1047" x2="1380" y2="1055" stroke="#000" stroke-width="2"/>
<line x1="1408.5" y1="1067" x2="1411" y2="1067" stroke="#000" stroke-width="2"/>
<path d="M1236.5,1185.5 L1517.5,1185.5 L1517.5,1370.5 L1236.5,1370.5 Z" stroke="#000" stroke-width="1" fill="none" stroke-linejoin="miter"/>
<line x1="1266.5" y1="1185.8" x2="1266.5" y2="1329.3" stroke="#000" stroke-width="1"/>
<path d="M1266.5,1339.3 L1263.8,1322.8 L1269.2,1322.8 Z" fill="#000"/>
<text transform="matrix(0.00000 -1.00000 1.00000 0.00000 1261.72 1283.97)" font-size="24.13" fill="#000">A2</text>
<line x1="1306.5" y1="1185.8" x2="1306.5" y2="1318.6" stroke="#000" stroke-width="1"/>
<path d="M1306.8,1328.6 L1304.1,1312.1 L1309.5,1312.1 Z" fill="#000"/>
<text transform="matrix(0.00000 -1.00000 1.00000 0.00000 1302.92 1274.12)" font-size="24.13" fill="#000">X2</text>
<line x1="1345.5" y1="1185.8" x2="1345.5" y2="1303.5" stroke="#000" stroke-width="1"/>
<path d="M1345.3,1313.5 L1342.6,1297 L1348,1297 Z" fill="#000"/>
<text transform="matrix(0.00000 -1.00000 1.00000 0.00000 1342.12 1267.51)" font-size="24.13" fill="#000">Y2</text>
<line x1="1263" y1="1341.5" x2="1412.2" y2="1341.5" stroke="#000" stroke-width="1" stroke-dasharray="3.2 2.6"/>
<line x1="1302.3" y1="1330.5" x2="1412.2" y2="1330.5" stroke="#222" stroke-width="1" stroke-dasharray="3.2 2.6"/>
<line x1="1343.4" y1="1314.5" x2="1440.2" y2="1314.5" stroke="#222" stroke-width="1" stroke-dasharray="3.2 2.6"/>
<line x1="1412.5" y1="1185.8" x2="1412.5" y2="1341.3" stroke="#000" stroke-width="1"/>
<line x1="1412.2" y1="1341.5" x2="1517.5" y2="1341.5" stroke="#000" stroke-width="1"/>
<path d="M1412.5,1330 L1486.5,1330 L1486.5,1320.5" stroke="#6a6a6a" stroke-width="1.6" fill="none" stroke-linejoin="miter"/>
<line x1="1432.4" y1="1311" x2="1517.5" y2="1311" stroke="#6a6a6a" stroke-width="2"/>
<line x1="1412.2" y1="1319.5" x2="1517.5" y2="1319.5" stroke="#000" stroke-width="1"/>
<path d="M1412.4,1310 L1412.4,1281.6 L1420.3,1281.6 L1420.3,1310" stroke="#000" stroke-width="1.0" fill="none" stroke-linejoin="miter"/>
<line x1="1413" y1="1310" x2="1432.4" y2="1310" stroke="#000" stroke-width="2"/>
<line x1="1413" y1="1319" x2="1432.4" y2="1319" stroke="#000" stroke-width="2"/>
<line x1="1414" y1="1310" x2="1414" y2="1320" stroke="#666" stroke-width="2"/>
</svg></body></html>
